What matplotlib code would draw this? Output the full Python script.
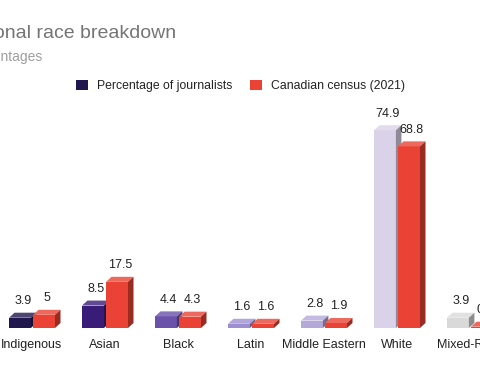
import matplotlib.pyplot as plt
from matplotlib.patches import Polygon, Patch
from matplotlib.colors import to_rgb

plt.rcParams['font.family'] = ['Liberation Sans', 'DejaVu Sans']

# data
categories = ["Indigenous", "Asian", "Black", "Latin", "Middle Eastern", "White", "Mixed-Race"]
journalists = [3.9, 8.5, 4.4, 1.6, 2.8, 74.9, 3.9]
census = [5, 17.5, 4.3, 1.6, 1.9, 68.8, 0.5]
value_labels_j = ["3.9", "8.5", "4.4", "1.6", "2.8", "74.9", "3.9"]
value_labels_c = ["5", "17.5", "4.3", "1.6", "1.9", "68.8", "0.5"]

journ_colors = ["#21174f", "#391c78", "#6a51a9", "#9d8fcf", "#b4a8d9", "#d9d2e9", "#d9d9d9"]
census_color = "#ea4335"

def lighter(c, f=0.2):
    r, g, b = to_rgb(c)
    return (r + (1-r)*f, g + (1-g)*f, b + (1-b)*f)

def darker(c, f=0.65):
    r, g, b = to_rgb(c)
    return (r*f, g*f, b*f)

W, H = 480, 371
fig = plt.figure(figsize=(W/100, H/100), dpi=100)
# px per category 73, px per unit 2.64, baseline at 328px from top
ppc = 73.0
ppu = 2.64
ax_h = 250
ax = fig.add_axes([0, (H-328)/H, 1, ax_h/H])
ax.set_xlim(-32/ppc, (W-32)/ppc)
ax.set_ylim(0, ax_h/ppu)
for s in ax.spines.values():
    s.set_visible(False)
ax.set_yticks([])

dx = 5.5/ppc
dy = 5/ppu
bw = 0.30

def bar3d(left, val, col, label):
    ax.bar(left, val, width=bw, align='edge', color=col, linewidth=0, zorder=2)
    r = left + bw
    top = Polygon([(left, val), (left+dx, val+dy), (r+dx, val+dy), (r, val)],
                  closed=True, facecolor=lighter(col), edgecolor='none', zorder=2)
    side = Polygon([(r, 0), (r, val), (r+dx, val+dy), (r+dx, dy)],
                   closed=True, facecolor=darker(col), edgecolor='none', zorder=2)
    ax.add_patch(top)
    ax.add_patch(side)
    ax.annotate(label, (left + (bw+dx)/2, val+dy), xytext=(0, 4), textcoords='offset points',
                ha='center', va='bottom', fontsize=9, color='#222222',
                annotation_clip=False)

xs = list(range(len(categories)))
for i in xs:
    bar3d(i - 0.315, journalists[i], journ_colors[i], value_labels_j[i])
for i in xs:
    bar3d(i + 0.015, census[i], census_color, value_labels_c[i])

ax.set_xticks(xs, categories)
ax.tick_params(axis='x', length=0, pad=8, labelsize=9, labelcolor='#222222')

fig.text(176/W, 1-38/H, "National race breakdown", ha='right', va='baseline',
         fontsize=14, color='#757575')
fig.text(43.5/W, 1-61/H, "Percentages", ha='right', va='baseline',
         fontsize=10, color='#9e9e9e')

handles = [Patch(facecolor=journ_colors[0], label="Percentage of journalists"),
           Patch(facecolor=census_color, label="Canadian census (2021)")]
fig.legend(handles=handles, loc='center left', bbox_to_anchor=(76/W, 1-86/H), ncol=2,
           frameon=False, fontsize=8.8, handlelength=0.95, handleheight=0.95,
           handletextpad=0.75, columnspacing=1.5, borderpad=0, borderaxespad=0,
           labelcolor='#222222')

fig.savefig("out.png", dpi=100)
